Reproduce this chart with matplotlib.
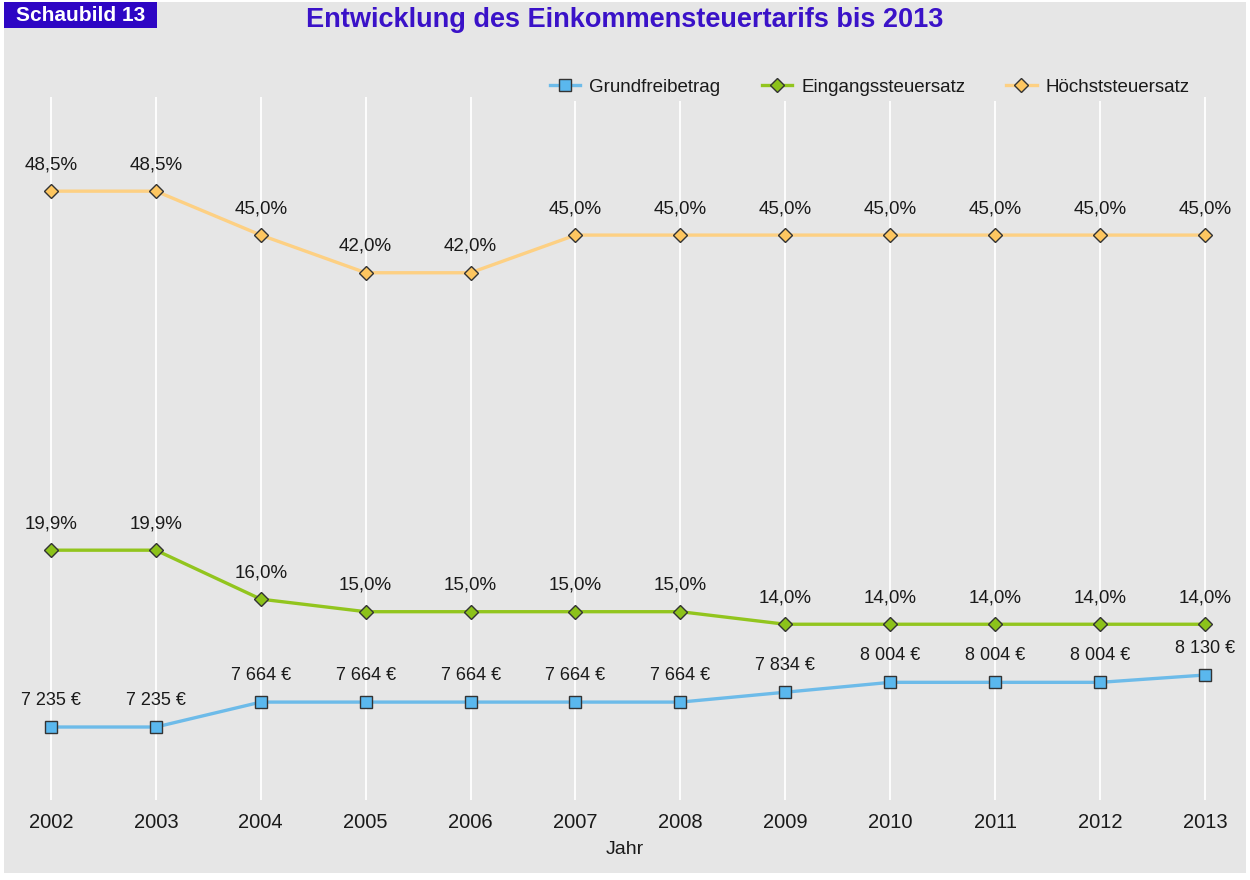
import matplotlib
matplotlib.use("Agg")
import matplotlib.pyplot as plt
from matplotlib.patches import Rectangle

plt.rcParams['font.family'] = ['Liberation Sans', 'DejaVu Sans']

# Daten
jahre = [2002, 2003, 2004, 2005, 2006, 2007, 2008, 2009, 2010, 2011, 2012, 2013]
grundfreibetrag = [7235, 7235, 7664, 7664, 7664, 7664, 7664, 7834, 8004, 8004, 8004, 8130]
eingangssteuersatz = [19.9, 19.9, 16.0, 15.0, 15.0, 15.0, 15.0, 14.0, 14.0, 14.0, 14.0, 14.0]
hoechststeuersatz = [48.5, 48.5, 45.0, 42.0, 42.0, 45.0, 45.0, 45.0, 45.0, 45.0, 45.0, 45.0]

bg = '#e6e6e6'
c_blau = '#6dbbe9'
c_gruen = '#92c51e'
c_orange = '#fdd083'

fig = plt.figure(figsize=(12.5, 8.8), dpi=100)
fig.patch.set_facecolor('white')
fig.add_artist(Rectangle((0.003, 0.008), 0.994, 0.99, transform=fig.transFigure,
                         facecolor=bg, edgecolor='none', zorder=0))

ax = fig.add_axes([0.0, 80 / 880, 1.0, 703 / 880])
ax.set_facecolor('none')
ax2 = ax.twinx()
ax2.set_facecolor('none')

for a in (ax, ax2):
    for s in a.spines.values():
        s.set_visible(False)
    a.tick_params(left=False, right=False, labelleft=False, labelright=False)

ax.set_xlim(2001.514, 2013.43)
ax.set_ylim(0, 56)
ax2.set_ylim(5979, 18078)

ax.set_xticks(jahre)
ax.set_xticklabels([str(j) for j in jahre], fontsize=14.5, color='#1a1a1a')
ax.tick_params(axis='x', length=0, pad=9)
ax.grid(axis='x', color='white', linewidth=1.3)
ax.grid(axis='y', visible=False)
ax.set_axisbelow(True)
ax.set_xlabel('Jahr', fontsize=14, color='#1a1a1a', labelpad=7)

l3, = ax.plot(jahre, hoechststeuersatz, color=c_orange, lw=2.4, marker='D', ms=7,
              mfc='#fdc660', mec='#333333', mew=1, label='Höchststeuersatz', zorder=3)
l2, = ax.plot(jahre, eingangssteuersatz, color=c_gruen, lw=2.4, marker='D', ms=7,
              mfc='#8cc21a', mec='#333333', mew=1, label='Eingangssteuersatz', zorder=3)
l1, = ax2.plot(jahre, grundfreibetrag, color=c_blau, lw=2.4, marker='s', ms=9,
               mfc='#5ab8ee', mec='#333333', mew=1, label='Grundfreibetrag', zorder=3)

for x, v in zip(jahre, hoechststeuersatz):
    ax.annotate(f'{v:.1f}%'.replace('.', ','), (x, v), xytext=(0, 19),
                textcoords='offset points', ha='center', va='center', fontsize=13.5, color='#1a1a1a')
for x, v in zip(jahre, eingangssteuersatz):
    ax.annotate(f'{v:.1f}%'.replace('.', ','), (x, v), xytext=(0, 19),
                textcoords='offset points', ha='center', va='center', fontsize=13.5, color='#1a1a1a')
for x, v in zip(jahre, grundfreibetrag):
    txt = f'{v:,}'.replace(',', ' ') + ' €'
    ax2.annotate(txt, (x, v), xytext=(0, 19),
                 textcoords='offset points', ha='center', va='center', fontsize=13, color='#1a1a1a')

leg = fig.legend(handles=[l1, l2, l3], loc='center', bbox_to_anchor=(0.696, 1 - 87 / 880),
                 ncol=3, frameon=True, fontsize=13.5, handlelength=1.6, columnspacing=2.2,
                 handletextpad=0.5, borderpad=0.3)
leg.get_frame().set_facecolor(bg)
leg.get_frame().set_edgecolor('none')
leg.get_frame().set_alpha(1)
for t in leg.get_texts():
    t.set_color('#1a1a1a')

fig.text(0.5, 1 - 20 / 880, 'Entwicklung des Einkommensteuertarifs bis 2013', ha='center', va='center',
         fontsize=19.5, fontweight='bold', color='#3a12c8')

# "Schaubild 13" Kasten oben links
fig.add_artist(Rectangle((4 / 1250, 1 - 28 / 880), 153 / 1250, 26 / 880, transform=fig.transFigure,
                         facecolor='#2e06c4', edgecolor='none', zorder=1))
fig.text(80.5 / 1250, 1 - 15.5 / 880, 'Schaubild 13', ha='center', va='center', fontsize=15,
         fontweight='bold', color='white')

fig.savefig('out.png', dpi=100, facecolor=fig.get_facecolor())
